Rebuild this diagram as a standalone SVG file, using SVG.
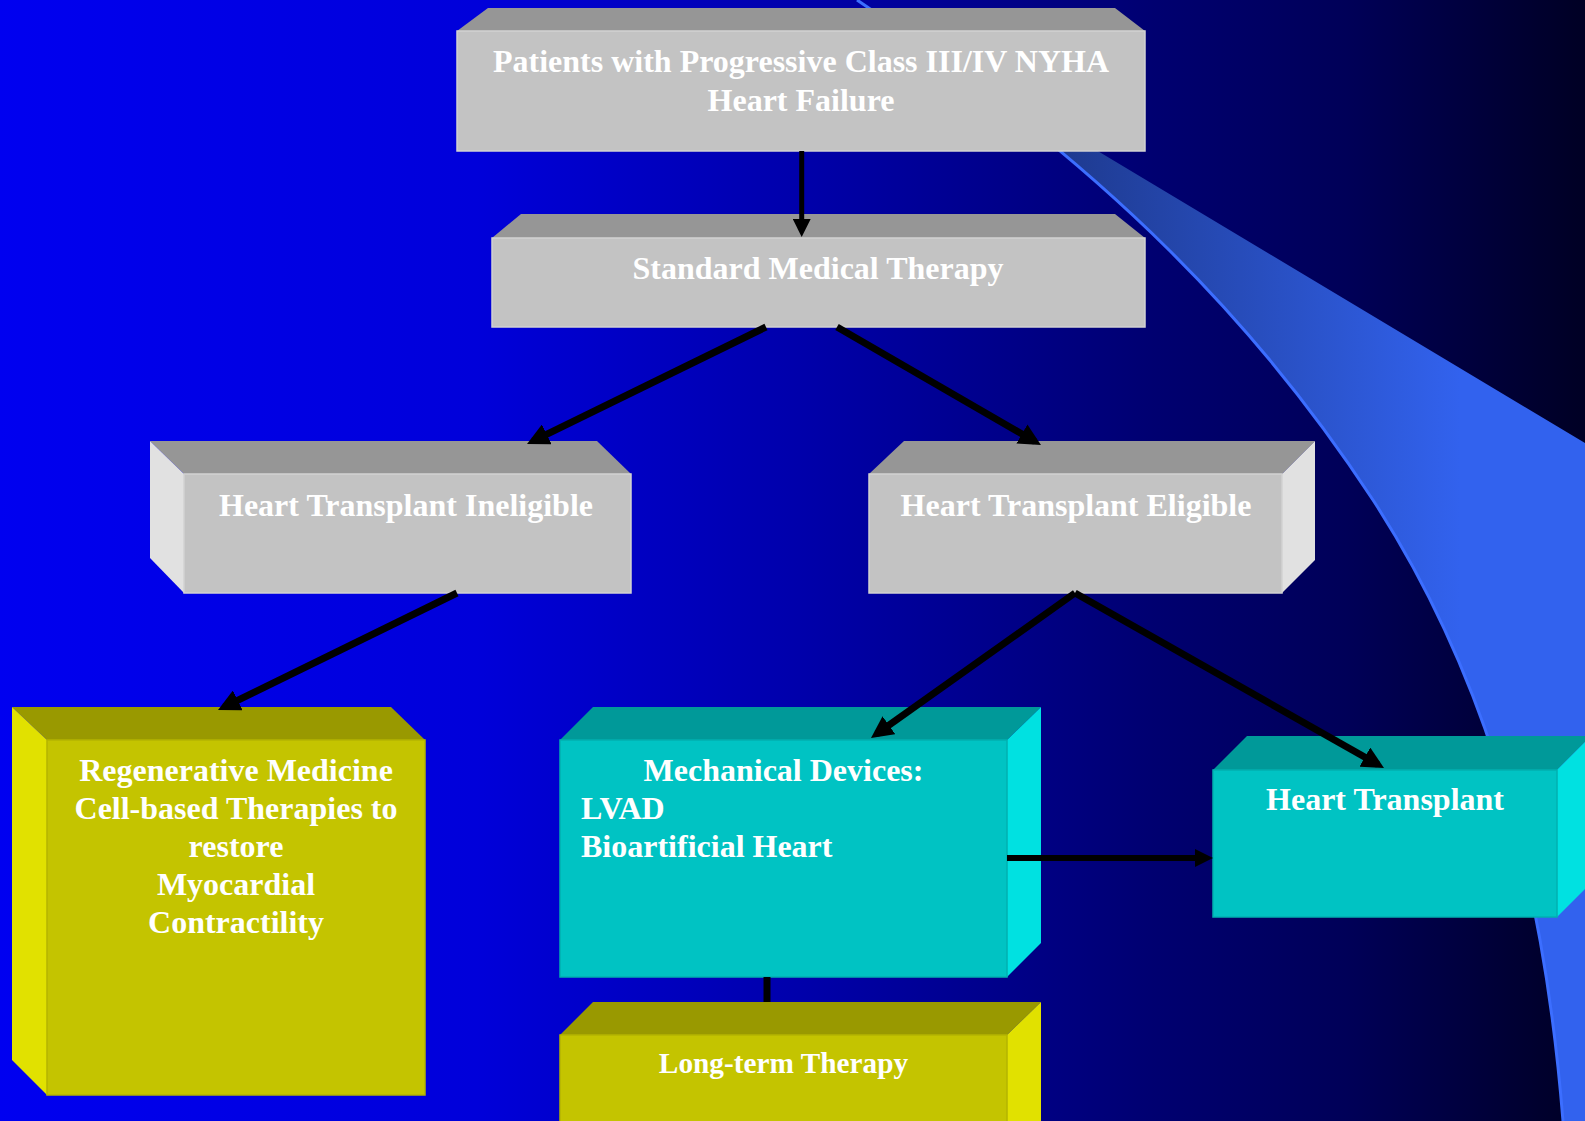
<svg xmlns="http://www.w3.org/2000/svg" width="1585" height="1121" viewBox="0 0 1585 1121">
<defs>
<linearGradient id="bg" x1="0" y1="0" x2="1585" y2="0" gradientUnits="userSpaceOnUse">
<stop offset="0" stop-color="#0000F0"/>
<stop offset="0.3" stop-color="#0000DA"/>
<stop offset="0.5" stop-color="#0000AC"/>
<stop offset="0.73" stop-color="#000070"/>
<stop offset="0.85" stop-color="#000058"/>
<stop offset="1" stop-color="#000024"/>
</linearGradient>
<linearGradient id="sw" x1="1060" y1="0" x2="1460" y2="0" gradientUnits="userSpaceOnUse">
<stop offset="0" stop-color="#1E3A8F"/>
<stop offset="1" stop-color="#3262EE"/>
</linearGradient>
<marker id="ah" markerUnits="userSpaceOnUse" markerWidth="18" markerHeight="18" viewBox="0 0 18 18" refX="12" refY="9" orient="auto">
<path d="M0,0 L18,9 L0,18 Z" fill="#000"/>
</marker>
<marker id="ahL" markerUnits="userSpaceOnUse" markerWidth="22" markerHeight="22" viewBox="0 0 22 22" refX="15" refY="11" orient="auto">
<path d="M0,0 L22,11 L0,22 Z" fill="#000"/>
</marker>
<style>
.gf{fill:#C3C3C3;stroke:#D2D2D2;stroke-width:1.5}
.gt{fill:#969696}
.gs{fill:#E1E1E1}
.cf{fill:#00C3C3;stroke:#00B0B0;stroke-width:1.5}
.ct{fill:#009999}
.cs{fill:#00E1E1}
.yf{fill:#C4C400;stroke:#B4B400;stroke-width:1.5}
.yt{fill:#999900}
.ys{fill:#E1E100}
.t{font-family:"Liberation Serif","Times New Roman",serif;font-weight:bold;font-size:32px;fill:#FFFFFF}
.m{text-anchor:middle}
.ln{stroke:#000;stroke-width:7;fill:none}
</style>
</defs>
<rect x="0" y="0" width="1585" height="1121" fill="url(#bg)"/>
<g id="swoosh">
<path d="M930.4,50.7 C1141.6,202.1 1273.1,347 1373,500 C1503,700 1547,921 1563,1121 L1585,1121 L1585,443 Z" fill="url(#sw)"/>
<path d="M857,0 C1112,170 1262,330 1373,500 C1503,700 1547,921 1563,1121" fill="none" stroke="#3C6EFF" stroke-width="3"/>
</g>
<g id="node-patients">
<polygon class="gt" points="457,31 488,8 1115,8 1145,31"/>
<rect class="gf" x="457" y="31" width="688" height="120"/>
<text class="t m" x="801" y="72">Patients with Progressive Class III/IV NYHA</text>
<text class="t m" x="801" y="111">Heart Failure</text>
</g>
<g id="node-standard">
<polygon class="gt" points="492,238 521,214 1115,214 1145,238"/>
<rect class="gf" x="492" y="238" width="653" height="89"/>
<text class="t m" x="818" y="279">Standard Medical Therapy</text>
</g>
<g id="node-ineligible">
<polygon class="gt" points="150,441 597,441 631,474 184,474"/>
<polygon class="gs" points="150,441 184,474 184,593 150,558"/>
<rect class="gf" x="184" y="474" width="447" height="119"/>
<text class="t m" x="406" y="516">Heart Transplant Ineligible</text>
</g>
<g id="node-eligible">
<polygon class="gt" points="904,441 1315,441 1282,474 869,474"/>
<polygon class="gs" points="1282,474 1315,441 1315,560 1282,593"/>
<rect class="gf" x="869" y="474" width="413" height="119"/>
<text class="t m" x="1076" y="516">Heart Transplant Eligible</text>
</g>
<g id="node-regenerative">
<polygon class="yt" points="12,707 391,707 425,740 47,740"/>
<polygon class="ys" points="12,707 47,740 47,1095 12,1060"/>
<rect class="yf" x="47" y="740" width="378" height="355"/>
<text class="t m" x="236" y="781">Regenerative Medicine</text>
<text class="t m" x="236" y="819">Cell-based Therapies to</text>
<text class="t m" x="236" y="857">restore</text>
<text class="t m" x="236" y="895">Myocardial</text>
<text class="t m" x="236" y="933">Contractility</text>
</g>
<g id="node-mechanical">
<polygon class="ct" points="593,707 1041,707 1007,740 560,740"/>
<polygon class="cs" points="1007,740 1041,707 1041,943 1007,977"/>
<rect class="cf" x="560" y="740" width="447" height="237"/>
<text class="t m" x="783.5" y="781">Mechanical Devices:</text>
<text class="t" x="581" y="819">LVAD</text>
<text class="t" x="581" y="857">Bioartificial Heart</text>
</g>
<g id="node-transplant">
<polygon class="ct" points="1247,736 1591,736 1557,770 1213,770"/>
<polygon class="cs" points="1557,770 1591,736 1591,883 1557,917"/>
<rect class="cf" x="1213" y="770" width="344" height="147"/>
<text class="t m" x="1385" y="810">Heart Transplant</text>
</g>
<g id="node-longterm">
<polygon class="yt" points="593,1002 1041,1002 1007,1035 560,1035"/>
<polygon class="ys" points="1007,1035 1041,1002 1041,1130 1007,1130"/>
<rect class="yf" x="560" y="1035" width="447" height="95"/>
<text class="t m" x="783.5" y="1073" style="font-size:29.3px">Long-term Therapy</text>
</g>
<g id="connectors">
<line class="ln" x1="801.7" y1="151" x2="801.7" y2="231" style="stroke-width:5" marker-end="url(#ah)"/>
<line class="ln" x1="766" y1="327" x2="533.3" y2="440.9" marker-end="url(#ahL)"/>
<line class="ln" x1="837" y1="327" x2="1034.9" y2="441.5" marker-end="url(#ahL)"/>
<line class="ln" x1="457" y1="593" x2="224.3" y2="706.9" marker-end="url(#ahL)"/>
<line class="ln" x1="1075" y1="593" x2="876.7" y2="733.9" marker-end="url(#ahL)"/>
<line class="ln" x1="1075" y1="593" x2="1377.9" y2="764.5" marker-end="url(#ahL)"/>
<line class="ln" x1="1007" y1="858" x2="1207" y2="858" style="stroke-width:6" marker-end="url(#ah)"/>
<line class="ln" x1="767" y1="977" x2="767" y2="1002" style="stroke-width:7"/>
</g>
</svg>
